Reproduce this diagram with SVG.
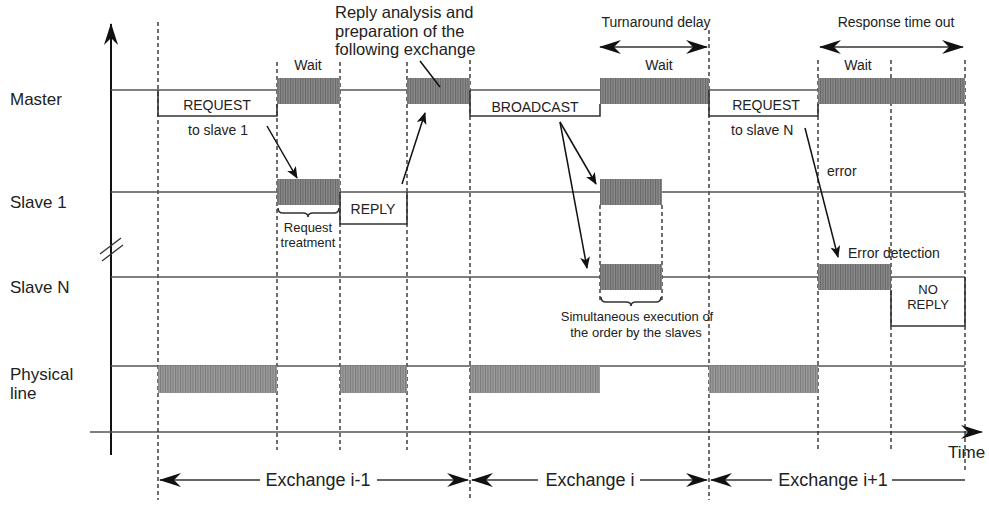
<svg xmlns="http://www.w3.org/2000/svg" width="989" height="505" viewBox="0 0 989 505">
<style>
text{font-family:"Liberation Sans",Arial,sans-serif;fill:#222}
.lab{font-size:17px}
.sm{font-size:14px}
.xs{font-size:13px}
.big{font-size:18px}
.top{font-size:16.5px}
.base{stroke:#555;stroke-width:1.6;fill:none}
.sig{stroke:#333;stroke-width:1.6;fill:none}
.dash{stroke:#222;stroke-width:1.3;stroke-dasharray:4 3;fill:none}
.blk{fill:url(#h)}
.blk2{fill:url(#h2)}
.con{stroke:#111;stroke-width:1.5;fill:none}
.ex{stroke:#333;stroke-width:1.6;fill:none}
.axis{stroke:#111;stroke-width:2;fill:none}
</style>
<defs>
<pattern id="h" patternUnits="userSpaceOnUse" width="2.5" height="10">
<rect width="2.5" height="10" fill="#8a8a8a"/>
<rect width="1" height="10" fill="#666"/>
</pattern>
<pattern id="h2" patternUnits="userSpaceOnUse" width="2.5" height="10">
<rect width="2.5" height="10" fill="#9c9c9c"/>
<rect width="1" height="10" fill="#7a7a7a"/>
</pattern>
<marker id="a" viewBox="0 0 12 10" refX="11" refY="5" markerWidth="12" markerHeight="10" orient="auto-start-reverse" markerUnits="userSpaceOnUse">
<path d="M0,0 L12,5 L0,10 L3,5 z" fill="#111"/>
</marker>
<marker id="b" viewBox="0 0 22 14" refX="21" refY="7" markerWidth="22" markerHeight="14" orient="auto-start-reverse" markerUnits="userSpaceOnUse">
<path d="M0,0 L22,7 L0,14 L7,7 z" fill="#111"/>
</marker>
</defs>
<rect width="989" height="505" fill="#fff"/>

<g id="axes">
<line class="axis" x1="111" y1="455" x2="111" y2="24" marker-end="url(#b)"/>
<line class="base" x1="90" y1="432" x2="982" y2="432" marker-end="url(#b)"/>
<line stroke="#333" stroke-width="1.3" x1="100" y1="254" x2="121" y2="238"/>
<line stroke="#333" stroke-width="1.3" x1="102" y1="261" x2="123" y2="245"/>
<text class="lab" x="948" y="458">Time</text>
</g>

<g id="guides">
<line class="dash" x1="158" y1="22" x2="158" y2="500"/>
<line class="dash" x1="277" y1="62" x2="277" y2="450"/>
<line class="dash" x1="340" y1="62" x2="340" y2="450"/>
<line class="dash" x1="407" y1="62" x2="407" y2="450"/>
<line class="dash" x1="470" y1="60" x2="470" y2="500"/>
<line class="dash" x1="600" y1="205" x2="600" y2="302"/>
<line class="dash" x1="662" y1="205" x2="662" y2="302"/>
<line class="dash" x1="709" y1="30" x2="709" y2="500"/>
<line class="dash" x1="818" y1="60" x2="818" y2="450"/>
<line class="dash" x1="891" y1="60" x2="891" y2="450"/>
<line class="dash" x1="965" y1="60" x2="965" y2="470"/>
</g>

<g id="master">
<text class="lab" x="10" y="105">Master</text>
<line class="base" x1="111" y1="90" x2="965" y2="90"/>
<path class="sig" d="M158,90 V116 H277 V104"/>
<rect class="blk" x="277" y="78" width="63" height="26"/>
<rect class="blk" x="407" y="78" width="63" height="26"/>
<path class="sig" d="M470,90 V116 H600 V104"/>
<rect class="blk" x="600" y="78" width="109" height="26"/>
<path class="sig" d="M709,90 V116 H818 V104"/>
<rect class="blk" x="818" y="78" width="147" height="26"/>
<text class="sm" x="217" y="110" text-anchor="middle">REQUEST</text>
<text class="sm" x="188" y="135">to slave 1</text>
<text class="sm" x="535" y="112" text-anchor="middle">BROADCAST</text>
<text class="sm" x="766" y="110" text-anchor="middle">REQUEST</text>
<text class="sm" x="731" y="135">to slave N</text>
<text class="sm" x="308" y="70" text-anchor="middle">Wait</text>
<text class="sm" x="659" y="70" text-anchor="middle">Wait</text>
<text class="sm" x="858" y="70" text-anchor="middle">Wait</text>
<text class="sm" x="656" y="27" text-anchor="middle">Turnaround delay</text>
<text class="sm" x="896" y="27" text-anchor="middle">Response time out</text>
<text class="top" x="335" y="18">Reply analysis and</text>
<text class="top" x="335" y="36.5">preparation of the</text>
<text class="top" x="335" y="55">following exchange</text>
</g>

<g id="slave1">
<text class="lab" x="10" y="208">Slave 1</text>
<line class="base" x1="111" y1="192" x2="965" y2="192"/>
<rect class="blk" x="277" y="179" width="63" height="26"/>
<path class="sig" d="M340,192 V224 H407 V192"/>
<text class="sm" x="373" y="214" text-anchor="middle">REPLY</text>
<path class="sig" stroke-width="1.2" d="M278,208 Q278,213 283,213 H303 Q308,213 308,217 Q308,213 313,213 H334 Q339,213 339,208"/>
<text class="xs" x="308" y="232" text-anchor="middle">Request</text>
<text class="xs" x="308" y="247" text-anchor="middle">treatment</text>
<rect class="blk" x="600" y="179" width="62" height="26"/>
</g>

<g id="slaveN">
<text class="lab" x="10" y="293">Slave N</text>
<line class="base" x1="111" y1="277" x2="965" y2="277"/>
<rect class="blk" x="600" y="264" width="62" height="26"/>
<path class="sig" stroke-width="1.2" d="M601,297 Q601,302 606,302 H626 Q631,302 631,306 Q631,302 636,302 H656 Q661,302 661,297"/>
<text class="xs" x="637" y="321" text-anchor="middle" font-size="13.5">Simultaneous execution of</text>
<text class="xs" x="636" y="336.5" text-anchor="middle" font-size="13.5">the order by the slaves</text>
<rect class="blk" x="818" y="264" width="73" height="26"/>
<text class="sm" x="848" y="258">Error detection</text>
<text class="sm" x="827" y="176">error</text>
<path class="sig" d="M891,290 V326 H965 V277"/>
<text class="xs" x="928" y="294" text-anchor="middle">NO</text>
<text class="xs" x="928" y="309" text-anchor="middle">REPLY</text>
</g>

<g id="physical">
<text class="lab" x="10" y="380" font-size="16.5">Physical</text>
<text class="lab" x="10" y="399" font-size="16.5">line</text>
<line class="base" x1="111" y1="366" x2="965" y2="366"/>
<rect class="blk2" x="158" y="366" width="119" height="27"/>
<rect class="blk2" x="340" y="366" width="67" height="27"/>
<rect class="blk2" x="470" y="366" width="130" height="27"/>
<rect class="blk2" x="709" y="366" width="109" height="27"/>
</g>

<g id="connectors">
<line class="con" x1="267" y1="126" x2="297" y2="178" marker-end="url(#a)"/>
<line class="con" x1="402" y1="184" x2="425" y2="113" marker-end="url(#a)"/>
<line class="con" x1="420" y1="61" x2="440" y2="87"/>
<line class="con" x1="560" y1="122" x2="596" y2="184" marker-end="url(#a)"/>
<line class="con" x1="560" y1="122" x2="587" y2="268" marker-end="url(#a)"/>
<line class="con" x1="805" y1="128" x2="838" y2="257" marker-end="url(#a)"/>
<line class="ex" x1="600" y1="47" x2="707" y2="47" marker-start="url(#b)" marker-end="url(#b)"/>
<line class="ex" x1="820" y1="47" x2="963" y2="47" marker-start="url(#b)" marker-end="url(#b)"/>
<line class="ex" x1="160" y1="480" x2="260" y2="480" marker-start="url(#b)"/>
<line class="ex" x1="377" y1="480" x2="468" y2="480" marker-end="url(#b)"/>
<line class="ex" x1="472" y1="480" x2="538" y2="480" marker-start="url(#b)"/>
<line class="ex" x1="640" y1="480" x2="707" y2="480" marker-end="url(#b)"/>
<line class="ex" x1="711" y1="480" x2="772" y2="480" marker-start="url(#b)"/>
<line class="ex" x1="892" y1="480" x2="965" y2="480"/>
<text class="big" x="318" y="486" text-anchor="middle">Exchange i-1</text>
<text class="big" x="590" y="486" text-anchor="middle">Exchange i</text>
<text class="big" x="833" y="486" text-anchor="middle">Exchange i+1</text>
</g>
</svg>
